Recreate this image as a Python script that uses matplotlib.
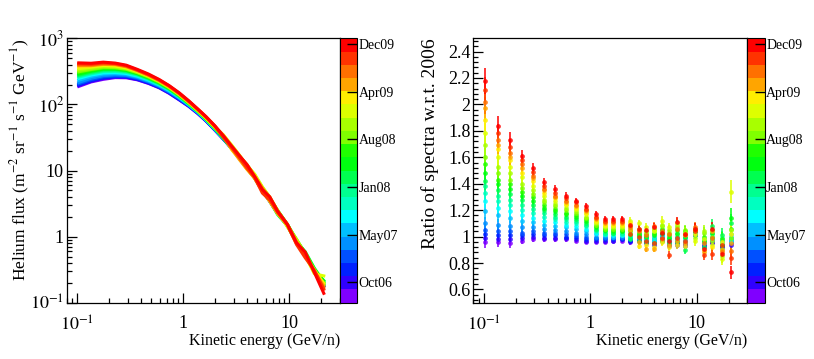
import numpy as np
import matplotlib.pyplot as plt
from matplotlib.colors import ListedColormap, BoundaryNorm
from matplotlib.cm import ScalarMappable
from matplotlib.ticker import FixedLocator, LogLocator, MultipleLocator, NullFormatter, FormatStrFormatter

plt.rcParams['font.family'] = ['Liberation Serif', 'DejaVu Serif']
plt.rcParams['mathtext.fontset'] = 'stix'

# kinetic energy bins (GeV/n)
energy = [0.104, 0.136, 0.177, 0.229, 0.291, 0.371, 0.471, 0.594, 0.736, 0.917,
          1.13, 1.38, 1.64, 1.99, 2.39, 2.87, 3.34, 3.98, 4.71, 5.57,
          6.55, 7.74, 9.57, 11.7, 14.1, 17.2, 21.1]

# reference (2006) helium flux
flux_2006 = [195, 228, 252, 262, 258, 240, 212, 182, 152, 122,
             97, 75, 58, 42, 31, 22, 16.5, 11.5, 7.9, 5.3,
             3.6, 2.4, 1.45, 0.88, 0.55, 0.33, 0.19]

# ratio w.r.t. 2006: one row per energy bin, one value per period (Oct06 ... Dec09)
ratio = [
    [0.96, 0.99, 1.02, 1.05, 1.10, 1.19, 1.27, 1.33, 1.38, 1.42, 1.48, 1.55, 1.60, 1.69, 1.78, 1.88, 1.97, 2.02, 2.11, 2.18],
    [0.96, 0.98, 1.01, 1.04, 1.09, 1.16, 1.22, 1.27, 1.31, 1.35, 1.40, 1.43, 1.48, 1.53, 1.60, 1.66, 1.69, 1.73, 1.78, 1.84],
    [0.95, 0.98, 1.01, 1.04, 1.08, 1.14, 1.19, 1.24, 1.28, 1.32, 1.36, 1.40, 1.43, 1.48, 1.53, 1.58, 1.60, 1.63, 1.68, 1.73],
    [0.97, 0.99, 1.01, 1.03, 1.07, 1.12, 1.16, 1.20, 1.24, 1.28, 1.31, 1.34, 1.37, 1.40, 1.45, 1.48, 1.52, 1.55, 1.58, 1.61],
    [0.98, 1.00, 1.02, 1.04, 1.07, 1.11, 1.14, 1.18, 1.21, 1.24, 1.27, 1.30, 1.32, 1.35, 1.38, 1.42, 1.44, 1.46, 1.49, 1.52],
    [0.98, 0.99, 1.01, 1.03, 1.06, 1.09, 1.12, 1.15, 1.18, 1.20, 1.22, 1.24, 1.26, 1.28, 1.31, 1.33, 1.35, 1.36, 1.38, 1.41],
    [0.98, 0.99, 1.01, 1.03, 1.05, 1.08, 1.11, 1.13, 1.15, 1.17, 1.19, 1.21, 1.23, 1.25, 1.27, 1.29, 1.30, 1.31, 1.33, 1.36],
    [0.98, 0.99, 1.00, 1.02, 1.04, 1.07, 1.09, 1.11, 1.13, 1.15, 1.17, 1.18, 1.20, 1.22, 1.24, 1.25, 1.26, 1.27, 1.29, 1.31],
    [0.97, 0.98, 1.00, 1.01, 1.03, 1.06, 1.08, 1.10, 1.12, 1.13, 1.15, 1.16, 1.18, 1.19, 1.21, 1.22, 1.23, 1.24, 1.26, 1.27],
    [0.96, 0.97, 0.98, 1.00, 1.02, 1.04, 1.06, 1.08, 1.09, 1.10, 1.12, 1.13, 1.14, 1.15, 1.17, 1.18, 1.19, 1.20, 1.21, 1.23],
    [0.96, 0.97, 0.98, 0.99, 1.00, 1.02, 1.03, 1.04, 1.05, 1.06, 1.07, 1.08, 1.09, 1.10, 1.11, 1.12, 1.13, 1.14, 1.15, 1.17],
    [0.96, 0.97, 0.98, 0.99, 1.00, 1.01, 1.02, 1.02, 1.03, 1.04, 1.05, 1.06, 1.06, 1.07, 1.08, 1.09, 1.10, 1.11, 1.12, 1.13],
    [0.97, 0.97, 0.98, 0.99, 1.00, 1.00, 1.01, 1.02, 1.03, 1.03, 1.04, 1.05, 1.06, 1.07, 1.08, 1.09, 1.10, 1.11, 1.12, 1.13],
    [0.97, 0.98, 0.98, 0.99, 1.00, 1.01, 1.01, 1.02, 1.03, 1.04, 1.04, 1.05, 1.06, 1.07, 1.08, 1.09, 1.10, 1.11, 1.12, 1.13],
    [0.96, 0.97, 0.97, 0.98, 0.99, 1.00, 0.99, 1.00, 1.01, 0.98, 1.02, 1.04, 1.06, 1.08, 1.12, 1.10, 1.05, 1.07, 1.02, 1.09],
    [0.98, 0.97, 0.99, 0.98, 1.00, 1.01, 0.99, 1.00, 1.02, 0.97, 1.01, 1.03, 1.05, 1.06, 1.10, 0.93, 0.96, 1.04, 1.00, 1.06],
    [0.96, 0.95, 0.97, 0.98, 0.99, 1.00, 0.98, 0.99, 1.01, 0.96, 1.00, 1.02, 1.04, 1.03, 1.07, 0.94, 0.91, 1.01, 0.97, 1.05],
    [0.95, 0.94, 0.96, 0.97, 0.98, 1.00, 0.97, 0.99, 1.02, 0.95, 1.01, 1.03, 1.05, 1.06, 1.04, 0.92, 0.91, 1.08, 0.95, 1.07],
    [0.98, 0.97, 0.99, 1.00, 1.01, 1.02, 1.00, 1.02, 1.05, 0.97, 1.03, 1.06, 1.08, 1.09, 1.12, 0.96, 0.98, 1.04, 0.99, 1.03],
    [0.94, 0.93, 0.95, 0.96, 0.97, 0.98, 0.96, 0.98, 1.00, 0.95, 0.99, 1.01, 1.03, 1.05, 1.07, 0.92, 0.94, 1.02, 0.86, 0.97],
    [0.95, 0.94, 0.96, 0.97, 0.98, 1.00, 0.98, 1.00, 1.03, 0.96, 1.02, 1.05, 1.07, 1.09, 1.10, 0.94, 0.97, 1.06, 0.99, 1.11],
    [0.94, 0.93, 0.95, 0.96, 0.97, 0.99, 0.97, 0.99, 1.02, 0.90, 1.00, 1.04, 1.05, 1.03, 1.02, 0.93, 0.95, 1.01, 0.97, 1.02],
    [1.02, 1.01, 1.03, 1.04, 1.04, 1.05, 1.03, 1.04, 1.05, 1.01, 1.04, 1.06, 1.05, 0.99, 0.97, 1.02, 1.05, 1.07, 1.04, 1.06],
    [0.93, 0.92, 0.94, 0.95, 0.96, 0.97, 0.95, 0.96, 0.98, 0.92, 0.97, 1.00, 1.03, 1.04, 0.98, 0.90, 0.88, 0.95, 0.86, 0.91],
    [0.96, 0.95, 0.97, 0.98, 0.99, 1.00, 0.98, 0.99, 1.02, 1.08, 1.03, 1.05, 1.00, 0.97, 0.94, 0.92, 1.04, 0.99, 0.87, 1.06],
    [0.93, 0.92, 0.94, 0.95, 0.96, 0.97, 0.95, 0.96, 0.99, 1.01, 0.94, 0.98, 0.91, 0.85, 0.83, 0.96, 0.90, 0.88, 0.94, 0.87],
    [0.95, 0.94, 0.96, 0.97, 0.98, 1.00, 0.97, 0.99, 1.02, 1.10, 1.14, 1.06, 0.99, 1.05, 1.34, 1.02, 0.95, 0.89, 0.84, 0.73],
]

# relative uncertainty per energy bin
rel_err = [0.045, 0.04, 0.035, 0.03, 0.025, 0.022, 0.02, 0.02, 0.02, 0.02,
           0.02, 0.02, 0.02, 0.022, 0.024, 0.026, 0.028, 0.03, 0.032, 0.034,
           0.036, 0.038, 0.04, 0.045, 0.05, 0.055, 0.065]

palette = ['#8000ff', '#3000ff', '#0020ff', '#0050ff', '#0090ff', '#00c0ff', '#00ffff',
           '#00ffc0', '#00ff90', '#00ff50', '#00ff10', '#20ff00', '#80ff00', '#a8ff00',
           '#ddff00', '#ffee00', '#ffa500', '#ff7000', '#ff3300', '#ff0000']
period_ticks = [1.55, 5.15, 8.75, 12.35, 15.95, 19.55]
period_labels = ['Oct06', 'May07', 'Jan08', 'Aug08', 'Apr09', 'Dec09']

E = np.array(energy)
R = np.array(ratio)
F = R * np.array(flux_2006)[:, None]
err = R * np.array(rel_err)[:, None]
n_per = R.shape[1]

fig = plt.figure(figsize=(8.14, 3.59), dpi=100)
ax1 = fig.add_axes([0.0819, 0.1568, 0.3358, 0.7365])
cax1 = fig.add_axes([0.4177, 0.1568, 0.0209, 0.7365])
ax2 = fig.add_axes([0.5815, 0.1568, 0.3366, 0.7365])
cax2 = fig.add_axes([0.9181, 0.1568, 0.0213, 0.7365])

for i in range(n_per):
    ax1.plot(E, F[:, i], color=palette[i], lw=2.2)
    ax2.errorbar(E, R[:, i], yerr=err[:, i], fmt='o', ms=3.4, color=palette[i],
                 elinewidth=1.3, capsize=0, alpha=0.85, mew=0)


def style(ax):
    ax.set_xscale('log')
    ax.set_xlim(0.08, 30)
    ax.xaxis.set_major_locator(FixedLocator([0.1, 1, 10]))
    ax.set_xticklabels(['$10^{-1}$', '1', '10'])
    ax.xaxis.set_minor_locator(LogLocator(subs=np.arange(2, 10)))
    ax.xaxis.set_minor_formatter(NullFormatter())
    ax.tick_params(which='both', direction='in', top=False, right=False, labelsize=13, width=0.9)
    ax.tick_params(which='major', length=7)
    ax.tick_params(which='minor', length=3.5)
    ax.tick_params(axis='x', pad=9)
    ax.tick_params(axis='y', pad=2)
    ax.set_xlabel('Kinetic energy (GeV/n)', fontsize=11.5, ha='right')
    ax.xaxis.set_label_coords(1.0, -0.115)
    ax.xaxis.label.set_va('top')
    for s in ax.spines.values():
        s.set_linewidth(0.9)


style(ax1)
ax1.set_yscale('log')
ax1.set_ylim(0.1, 1000)
ax1.yaxis.set_major_locator(FixedLocator([0.1, 1, 10, 100, 1000]))
ax1.set_yticklabels(['$10^{-1}$', '1', '10', '$10^{2}$', '$10^{3}$'])
ax1.yaxis.set_minor_locator(LogLocator(subs=np.arange(2, 10)))
ax1.yaxis.set_minor_formatter(NullFormatter())
ax1.set_ylabel('Helium flux (m$^{-2}$ sr$^{-1}$ s$^{-1}$ GeV$^{-1}$)', fontsize=12.5, loc='top')
ax1.yaxis.set_label_coords(-0.127, 1.0)

style(ax2)
ax2.set_ylim(0.5, 2.5)
ax2.yaxis.set_major_locator(MultipleLocator(0.2))
ax2.yaxis.set_minor_locator(MultipleLocator(0.04))
ax2.yaxis.set_major_formatter(FormatStrFormatter('%g'))
ax2.set_ylabel('Ratio of spectra w.r.t. 2006', fontsize=14, loc='top')
ax2.yaxis.set_label_coords(-0.127, 1.0)

cmap = ListedColormap(palette)
norm = BoundaryNorm(np.arange(n_per + 1), n_per)
for cax in (cax1, cax2):
    cb = fig.colorbar(ScalarMappable(norm=norm, cmap=cmap), cax=cax)
    cb.set_ticks(period_ticks)
    cb.set_ticklabels(period_labels)
    cax.minorticks_off()
    cax.tick_params(direction='in', length=7, width=1, labelsize=10, pad=1)
    cb.outline.set_linewidth(0.8)

fig.savefig('out.png', dpi=100)
